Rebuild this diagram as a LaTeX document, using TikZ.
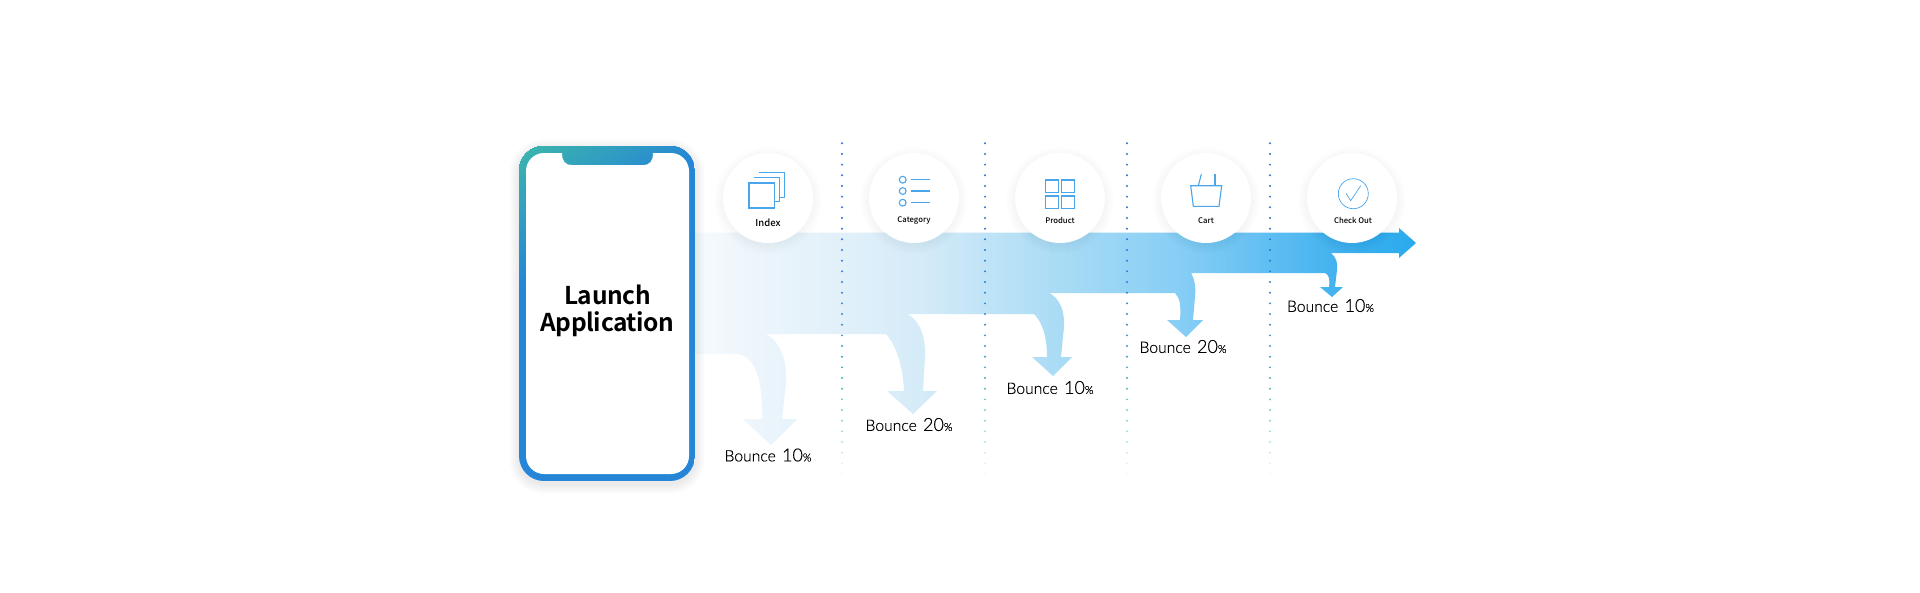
\documentclass[tikz,border=0pt]{standalone}
\usepackage{fontspec}
\setmainfont{Noto Sans CJK KR}
\newfontfamily\medfont{Noto Sans CJK KR Medium}
\newfontfamily\launchfont[LetterSpace=-1.5]{Noto Sans CJK KR Bold}
\newfontfamily\bouncefont[FakeBold=0.35]{Lato Light}
\usetikzlibrary{calc}
\definecolor{b0}{HTML}{F5FAFD}
\definecolor{b1}{HTML}{EAF4FB}
\definecolor{b2}{HTML}{E0F0F9}
\definecolor{b3}{HTML}{D4EBF8}
\definecolor{b4}{HTML}{ABDCF5}
\definecolor{b5}{HTML}{85CDF5}
\definecolor{b6}{HTML}{46B3EF}
\definecolor{b7}{HTML}{29AAEC}
\definecolor{phteal}{HTML}{3DB8AA}
\definecolor{phblue}{HTML}{2585D6}
\definecolor{iconblue}{HTML}{4AA5EA}
\definecolor{dotblue}{HTML}{2B6FE0}
\definecolor{dotteal}{HTML}{35B5BC}
\pgfdeclarehorizontalshading{bandshade}{100bp}{color(0bp)=(b0); color(25.75bp)=(b0); color(30.5bp)=(b1); color(36bp)=(b2); color(41bp)=(b3); color(50bp)=(b4); color(59bp)=(b5); color(69bp)=(b6); color(75bp)=(b7); color(100bp)=(b7)}
\tikzset{
  iconline/.style={draw=iconblue,line width=1.1pt,fill=none},
  thinicon/.style={draw=iconblue,line width=0.7pt,fill=none},
  disc/.style={circle,fill=white,minimum size=90pt,inner sep=0pt},
  iconlabel/.style={font=\medfont\fontsize{7.7}{10}\selectfont,text=black,inner sep=0pt},
  bouncelabel/.style={font=\bouncefont\fontsize{15.7}{20}\selectfont,text=black,inner sep=0pt},
}
\newcommand{\bouncetext}[1]{Bounce\hspace{2pt} {\fontsize{18}{20}\selectfont #1}{\fontsize{11}{14}\selectfont\%}}
\begin{document}
\begin{tikzpicture}[x=1pt,y=-1pt]
\useasboundingbox (0,0) rectangle (1920,592);
\fill[white] (0,0) rectangle (1920,592);
% flow band
\shade[shading=bandshade]
  (690,232.5) -- (1399,232.5) -- (1399,228) -- (1416,243) -- (1399,258) -- (1399,253) -- (1331,253)
  .. controls (1336,257) and (1338,263) .. (1337,270) -- (1335,287) -- (1343,287) -- (1332,297) -- (1320,287) -- (1329,287)
  .. controls (1330,279) and (1329,275) .. (1325,273) -- (1191,273)
  .. controls (1195,280) and (1196,288) .. (1195,297) -- (1193,320) -- (1203,320) -- (1186,337) -- (1167,320) -- (1180,320)
  .. controls (1181,306) and (1180,298) .. (1175,293) -- (1049,293)
  .. controls (1060,298) and (1065,312) .. (1064,327) -- (1061,357) -- (1072,357) -- (1053,376) -- (1032,357) -- (1047,357)
  .. controls (1047,338) and (1043,323) .. (1034,314) -- (907,314)
  .. controls (920,320) and (926,338) .. (925,357) -- (923,391) -- (937,391) -- (913,414) -- (887,391) -- (904,391)
  .. controls (903,368) and (897,346) .. (886,334) -- (765,334)
  .. controls (780,340) and (787,360) .. (786,383) -- (782,419) -- (797,419) -- (771,445) -- (743,419) -- (762,419)
  .. controls (763,385) and (757,354) .. (735,354) -- (690,354) -- cycle;
% separators
\foreach \sx in {842,985,1127,1270}{
  \foreach \i in {0,...,31}{
    \pgfmathsetmacro{\dy}{143.3+10.67*\i}
    \pgfmathtruncatemacro{\mixa}{\i<23 ? min(100,(\i/22)^3*100) : 100}
    \pgfmathtruncatemacro{\mixb}{\i<23 ? 0 : (\i-22)/9.5*100}
    \fill[white!\mixb!dotteal!\mixa!dotblue] (\sx,\dy) circle (1.1);
  }
}
% phone shadow
\foreach \g in {1,...,10}{
  \fill[black,opacity=0.006,rounded corners={25+\g}] ({519-\g},{149-\g}) rectangle ({695+\g},{484+\g});
}
% phone body with a diagonal teal-to-blue gradient from the top-left corner
\begin{scope}
  \clip[rounded corners=25] (519,146) rectangle (695,481);
  \fill[phblue] (519,146) rectangle (695,481);
  \foreach \k in {40,39,...,1}{
    \pgfmathsetmacro{\tv}{\k*0.035}
    \pgfmathtruncatemacro{\pc}{100*\k/40}
    \fill[phblue!\pc!phteal] (519,146) -- ({519+141*\tv},146) -- (519,{146+104*\tv}) -- cycle;
  }
\end{scope}
\fill[white] (544,153)
  -- (562,153) .. controls (562,161) and (565,165) .. (572,165) -- (643,165) .. controls (650,165) and (653,161) .. (653,153)
  -- (671,153) arc[start angle=90,end angle=0,x radius=18,y radius=-18]
  -- (689,456) arc[start angle=0,end angle=-90,x radius=18,y radius=-18]
  -- (544,474) arc[start angle=-90,end angle=-180,x radius=18,y radius=-18]
  -- (526,171) arc[start angle=180,end angle=90,x radius=18,y radius=-18] -- cycle;
\node[font=\launchfont\fontsize{24.5}{27}\selectfont,align=center,text=black,inner sep=0pt] (launch) at (607.5,311) {Launch\\Application};
% circles
\foreach \cx/\nm in {768/index,914/category,1060/product,1206/cart,1352/checkout}{
  \foreach \g in {1,...,10}{
    \fill[black,opacity=0.004] (\cx,200.5) circle ({44+\g});
  }
  \node[disc] (\nm) at (\cx,198) {};
}
% index icon
\draw[iconline] (749,183) rectangle (774.5,208);
\draw[iconline] (754,177.7) -- (779.3,177.7) -- (779.3,201.7) -- (774.5,201.7);
\draw[iconline] (759,172.3) -- (784.7,172.3) -- (784.7,197.7) -- (779.3,197.7);
\node[iconlabel,font=\medfont\fontsize{9.5}{12}\selectfont] (indexlabel) at (768,223) {Index};
% category icon
\foreach \ly in {179.7,191,202.7}{
  \draw[iconline] (902.7,\ly) circle (3.4);
  \draw[iconline] (910.7,\ly) -- (930,\ly);
}
\node[iconlabel] (categorylabel) at (914,220.5) {Category};
% product icon
\draw[iconline] (1045.3,180) rectangle (1058.7,192.7);
\draw[iconline] (1061.3,180) rectangle (1074.7,192.7);
\draw[iconline] (1045.3,196) rectangle (1058.7,208.7);
\draw[iconline] (1061.3,196) rectangle (1074.7,208.7);
\node[iconlabel] (productlabel) at (1060,220.5) {Product};
% cart icon
\draw[iconline] (1190.7,185.7) -- (1221.7,185.7) -- (1219,206.3) -- (1193.3,206.3) -- cycle;
\draw[iconline] (1198.3,185.7) -- (1201.3,174.3);
\draw[iconline] (1215,185.7) -- (1215,174.3);
\node[iconlabel] (cartlabel) at (1206,220.5) {Cart};
% check icon
\draw[thinicon] (1353.3,193.7) circle (15);
\draw[thinicon] (1346,193.3) -- (1350.7,200.7) -- (1360.7,185.7);
\node[iconlabel] (checklabel) at (1353,220.5) {Check Out};
% bounce labels
\node[bouncelabel] (b1) at (768,455) {\bouncetext{10}};
\node[bouncelabel] (b2) at (909,424.5) {\bouncetext{20}};
\node[bouncelabel] (b3) at (1050,387.5) {\bouncetext{10}};
\node[bouncelabel] (b4) at (1183,346.5) {\bouncetext{20}};
\node[bouncelabel] (b5) at (1330.5,305.5) {\bouncetext{10}};
\end{tikzpicture}
\end{document}
